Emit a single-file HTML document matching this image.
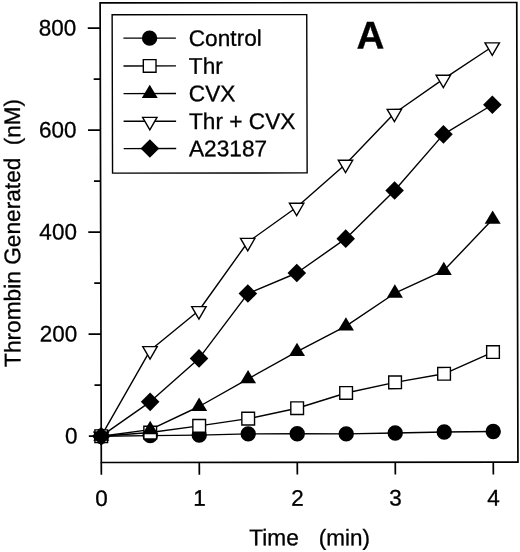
<!DOCTYPE html>
<html><head><meta charset="utf-8"><title>Chart</title>
<style>
html,body{margin:0;padding:0;background:#fff;}
body{width:520px;height:552px;overflow:hidden;}
svg{display:block;will-change:transform;}
text{font-family:"Liberation Sans",sans-serif;fill:#000;stroke:#000;stroke-width:0.3px;}
</style></head><body>
<svg width="520" height="552" viewBox="0 0 520 552">
<rect x="0" y="0" width="520" height="552" fill="#fff"/>
<g transform="matrix(1,-0.0009,0.0026,1,-0.603,0.278)">

<g stroke="#000" stroke-width="1.7" fill="none" stroke-linecap="butt">
<rect x="100.7" y="2.7" width="416.65000000000003" height="459.6"/>
<line x1="88.3" y1="436.0" x2="100.7" y2="436.0"/>
<line x1="94.10000000000001" y1="385.0" x2="100.7" y2="385.0"/>
<line x1="88.3" y1="334.0" x2="100.7" y2="334.0"/>
<line x1="94.10000000000001" y1="283.0" x2="100.7" y2="283.0"/>
<line x1="88.3" y1="232.0" x2="100.7" y2="232.0"/>
<line x1="94.10000000000001" y1="181.0" x2="100.7" y2="181.0"/>
<line x1="88.3" y1="130.0" x2="100.7" y2="130.0"/>
<line x1="94.10000000000001" y1="79.0" x2="100.7" y2="79.0"/>
<line x1="88.3" y1="28.0" x2="100.7" y2="28.0"/>
<line x1="100.7" y1="462.3" x2="100.7" y2="474.6"/>
<line x1="198.7" y1="462.3" x2="198.7" y2="474.6"/>
<line x1="296.7" y1="462.3" x2="296.7" y2="474.6"/>
<line x1="394.7" y1="462.3" x2="394.7" y2="474.6"/>
<line x1="492.7" y1="462.3" x2="492.7" y2="474.6"/>
</g>
<text x="76.9" y="443.2" font-size="22.5" text-anchor="end">0</text>
<text x="76.9" y="341.2" font-size="22.5" text-anchor="end">200</text>
<text x="76.9" y="239.2" font-size="22.5" text-anchor="end">400</text>
<text x="76.9" y="137.2" font-size="22.5" text-anchor="end">600</text>
<text x="76.9" y="35.2" font-size="22.5" text-anchor="end">800</text>
<text x="100.8" y="505.7" font-size="22.5" text-anchor="middle">0</text>
<text x="198.79999999999998" y="505.7" font-size="22.5" text-anchor="middle">1</text>
<text x="296.8" y="505.7" font-size="22.5" text-anchor="middle">2</text>
<text x="394.8" y="505.7" font-size="22.5" text-anchor="middle">3</text>
<text x="492.8" y="505.7" font-size="22.5" text-anchor="middle">4</text>
<text x="248.4" y="545.3" font-size="22.7">Time</text>
<text x="318" y="545.3" font-size="22.5">(min)</text>
<text transform="translate(20.1,366.7) rotate(-90)" font-size="22.7">Thrombin Generated</text>
<text transform="translate(20.4,145.0) rotate(-90)" font-size="22.5">(nM)</text>
<text x="356.9" y="48.5" font-size="38.6" font-weight="bold" stroke="#000" stroke-width="0.5">A</text>
<g stroke="#000" stroke-width="1.4" fill="none" stroke-linejoin="round">
<polyline points="100.7,436.0 149.7,435.5 198.7,435.0 247.7,433.8 296.7,433.7 345.7,433.9 394.7,433.1 443.7,432.1 492.7,431.7"/>
<polyline points="100.7,436.0 149.7,432.4 198.7,425.8 247.7,418.6 296.7,408.2 345.7,393.0 394.7,382.4 443.7,373.9 492.7,352.2"/>
<polyline points="100.7,436.0 149.7,429.5 198.7,406.4 247.7,378.8 296.7,351.6 345.7,326.1 394.7,293.3 443.7,270.7 492.7,219.5"/>
<polyline points="100.7,436.0 149.7,350.4 198.7,310.4 247.7,242.2 296.7,207.2 345.7,164.2 394.7,113.3 443.7,79.3 492.7,46.9"/>
<polyline points="100.7,436.0 149.7,401.7 198.7,358.3 247.7,293.5 296.7,273.0 345.7,238.7 394.7,190.6 443.7,134.5 492.7,104.9"/>
</g>
<circle cx="100.7" cy="436.0" r="7.7" fill="#000"/>
<circle cx="149.7" cy="435.5" r="7.7" fill="#000"/>
<circle cx="198.7" cy="435.0" r="7.7" fill="#000"/>
<circle cx="247.7" cy="433.8" r="7.7" fill="#000"/>
<circle cx="296.7" cy="433.7" r="7.7" fill="#000"/>
<circle cx="345.7" cy="433.9" r="7.7" fill="#000"/>
<circle cx="394.7" cy="433.1" r="7.7" fill="#000"/>
<circle cx="443.7" cy="432.1" r="7.7" fill="#000"/>
<circle cx="492.7" cy="431.7" r="7.7" fill="#000"/>
<rect x="94.35" y="429.65" width="12.7" height="12.7" fill="#fff" stroke="#000" stroke-width="1.4"/>
<rect x="143.35" y="426.05" width="12.7" height="12.7" fill="#fff" stroke="#000" stroke-width="1.4"/>
<rect x="192.35" y="419.45" width="12.7" height="12.7" fill="#fff" stroke="#000" stroke-width="1.4"/>
<rect x="241.35" y="412.25" width="12.7" height="12.7" fill="#fff" stroke="#000" stroke-width="1.4"/>
<rect x="290.35" y="401.85" width="12.7" height="12.7" fill="#fff" stroke="#000" stroke-width="1.4"/>
<rect x="339.35" y="386.65" width="12.7" height="12.7" fill="#fff" stroke="#000" stroke-width="1.4"/>
<rect x="388.35" y="376.05" width="12.7" height="12.7" fill="#fff" stroke="#000" stroke-width="1.4"/>
<rect x="437.35" y="367.55" width="12.7" height="12.7" fill="#fff" stroke="#000" stroke-width="1.4"/>
<rect x="486.35" y="345.85" width="12.7" height="12.7" fill="#fff" stroke="#000" stroke-width="1.4"/>
<polygon points="100.7,427.1 108.7,440.5 92.7,440.5" fill="#000"/>
<polygon points="149.7,420.6 157.7,434.0 141.7,434.0" fill="#000"/>
<polygon points="198.7,397.5 206.7,410.9 190.7,410.9" fill="#000"/>
<polygon points="247.7,369.9 255.7,383.3 239.7,383.3" fill="#000"/>
<polygon points="296.7,342.7 304.7,356.1 288.7,356.1" fill="#000"/>
<polygon points="345.7,317.2 353.7,330.6 337.7,330.6" fill="#000"/>
<polygon points="394.7,284.4 402.7,297.8 386.7,297.8" fill="#000"/>
<polygon points="443.7,261.8 451.7,275.2 435.7,275.2" fill="#000"/>
<polygon points="492.7,210.6 500.7,224.0 484.7,224.0" fill="#000"/>
<polygon points="93.5,432.1 107.9,432.1 100.7,444.5" fill="#fff" stroke="#000" stroke-width="1.4"/>
<polygon points="142.5,346.5 156.9,346.5 149.7,358.9" fill="#fff" stroke="#000" stroke-width="1.4"/>
<polygon points="191.5,306.5 205.9,306.5 198.7,318.9" fill="#fff" stroke="#000" stroke-width="1.4"/>
<polygon points="240.5,238.3 254.9,238.3 247.7,250.7" fill="#fff" stroke="#000" stroke-width="1.4"/>
<polygon points="289.5,203.3 303.9,203.3 296.7,215.7" fill="#fff" stroke="#000" stroke-width="1.4"/>
<polygon points="338.5,160.3 352.9,160.3 345.7,172.7" fill="#fff" stroke="#000" stroke-width="1.4"/>
<polygon points="387.5,109.4 401.9,109.4 394.7,121.8" fill="#fff" stroke="#000" stroke-width="1.4"/>
<polygon points="436.5,75.4 450.9,75.4 443.7,87.8" fill="#fff" stroke="#000" stroke-width="1.4"/>
<polygon points="485.5,43.0 499.9,43.0 492.7,55.4" fill="#fff" stroke="#000" stroke-width="1.4"/>
<polygon points="100.7,426.7 110.0,436.0 100.7,445.3 91.4,436.0" fill="#000"/>
<polygon points="149.7,392.4 159.0,401.7 149.7,411.0 140.4,401.7" fill="#000"/>
<polygon points="198.7,349.0 208.0,358.3 198.7,367.6 189.4,358.3" fill="#000"/>
<polygon points="247.7,284.2 257.0,293.5 247.7,302.8 238.4,293.5" fill="#000"/>
<polygon points="296.7,263.7 306.0,273.0 296.7,282.3 287.4,273.0" fill="#000"/>
<polygon points="345.7,229.4 355.0,238.7 345.7,248.0 336.4,238.7" fill="#000"/>
<polygon points="394.7,181.3 404.0,190.6 394.7,199.9 385.4,190.6" fill="#000"/>
<polygon points="443.7,125.2 453.0,134.5 443.7,143.8 434.4,134.5" fill="#000"/>
<polygon points="492.7,95.6 502.0,104.9 492.7,114.2 483.4,104.9" fill="#000"/>
<rect x="112.7" y="14.6" width="194.6" height="158.3" fill="#fff" stroke="#000" stroke-width="1.4"/>
<g stroke="#000" stroke-width="1.35">
<line x1="123.9" y1="38" x2="176.4" y2="38"/>
<line x1="123.9" y1="65.8" x2="176.4" y2="65.8"/>
<line x1="123.9" y1="93.4" x2="176.4" y2="93.4"/>
<line x1="123.9" y1="121.1" x2="176.4" y2="121.1"/>
<line x1="123.9" y1="148.4" x2="176.4" y2="148.4"/>
</g>
<circle cx="150.1" cy="38.0" r="7.7" fill="#000"/>
<rect x="143.75" y="59.45" width="12.7" height="12.7" fill="#fff" stroke="#000" stroke-width="1.4"/>
<polygon points="150.1,84.5 158.1,97.9 142.1,97.9" fill="#000"/>
<polygon points="142.9,117.2 157.3,117.2 150.1,129.6" fill="#fff" stroke="#000" stroke-width="1.4"/>
<polygon points="150.1,139.1 159.4,148.4 150.1,157.7 140.8,148.4" fill="#000"/>
<text x="189.2" y="45.8" font-size="22.7">Control</text>
<text x="189.2" y="73.6" font-size="22.7">Thr</text>
<text x="189.2" y="101.2" font-size="22.7">CVX</text>
<text x="189.2" y="128.9" font-size="22.7">Thr + CVX</text>
<text x="189.2" y="156.20000000000002" font-size="22.7">A23187</text>
</g></svg></body></html>
